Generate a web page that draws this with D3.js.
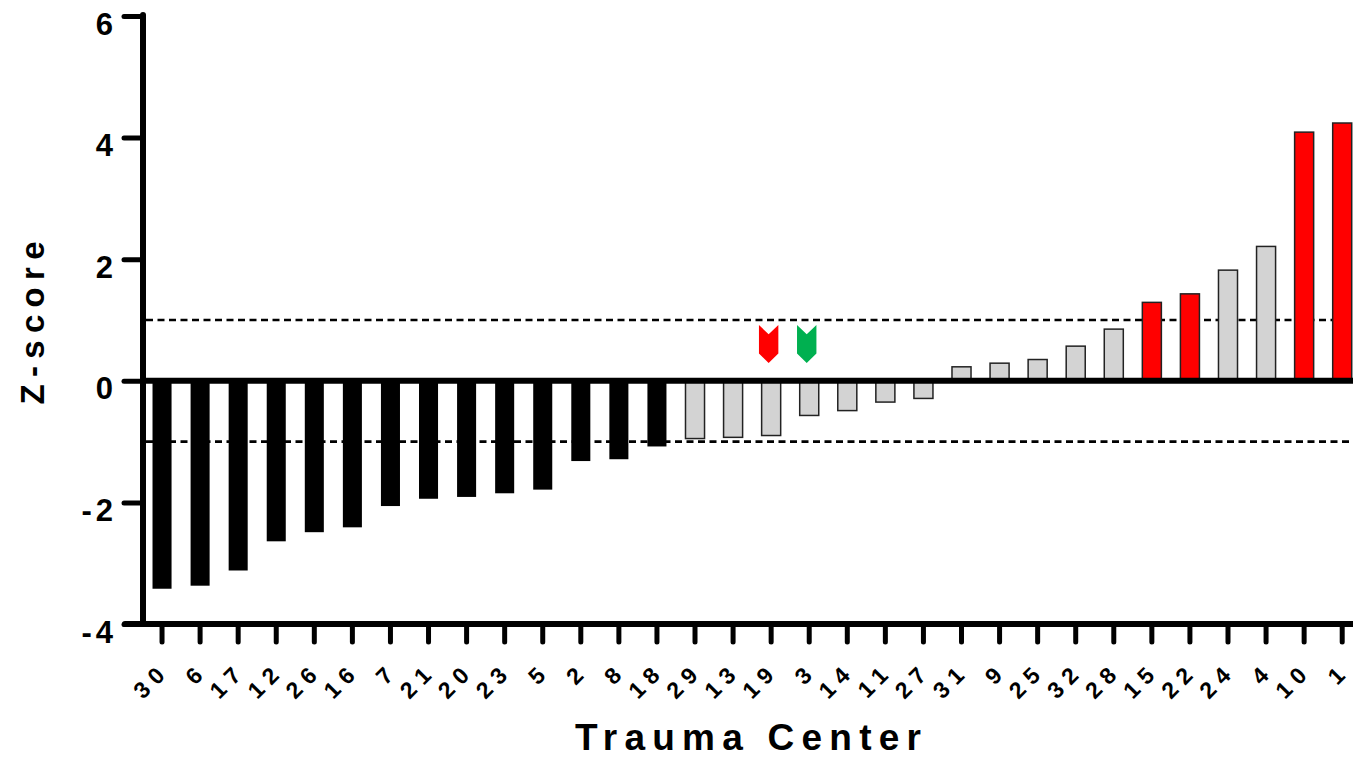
<!DOCTYPE html>
<html>
<head>
<meta charset="utf-8">
<script src="https://cdn.jsdelivr.net/npm/d3@7"></script>
<style>
  html, body { margin: 0; padding: 0; background: #fff; }
  svg { display: block; font-family: "Liberation Sans", Arial, sans-serif; }
</style>
</head>
<body>
<svg id="chart" width="1353" height="757"></svg>
<script>
// ---- data ----
const centers = ["30","6","17","12","26","16","7","21","20","23","5","2","8","18",
                 "29","13","19","3","14","11","27","31","9","25","32","28","15","22","24","4","10","1"];
const zScores = [-3.42,-3.37,-3.12,-2.64,-2.49,-2.41,-2.06,-1.94,-1.91,-1.85,-1.79,-1.32,-1.29,-1.08,
                 -0.95,-0.93,-0.90,-0.57,-0.49,-0.35,-0.29,0.23,0.29,0.35,0.57,0.85,1.29,1.43,1.82,2.21,4.09,4.24];
const groups = ["low","low","low","low","low","low","low","low","low","low","low","low","low","low",
                "mid","mid","mid","mid","mid","mid","mid","mid","mid","mid","mid","mid","high","high","mid","mid","high","high"];
const yTicks = [-4,-2,0,2,4,6];
const yTickLabels = ["-4","-2","0","2","4","6"];
const thresholds = [-1, 1];
const markedCenters = ["19","3"];
const markerKinds = ["worse","better"];
const yLabel = "Z-score";
const xLabel = "Trauma Center";

// ---- drawing ----
const svg = d3.select("#chart");
const FONT = "'Liberation Sans', Arial, sans-serif";
const AX = 143;           // y-axis x
const y = d3.scaleLinear().domain([-4, 6]).range([624, 16]);
const x = d3.scaleBand().domain(centers).range([AX, AX + 32 * 38.07])
  .paddingInner(0.5).paddingOuter(0.25);

const fill = { low: "#000000", mid: "#d3d3d3", high: "#ff0000" };
const stroke = { low: "#000000", mid: "#222222", high: "#222222" };

// dashed threshold lines
svg.append("g").selectAll("line").data(thresholds).join("line")
  .attr("x1", AX + 3).attr("x2", 1353)
  .attr("y1", d => y(d)).attr("y2", d => y(d))
  .attr("stroke", "#000").attr("stroke-width", 2.6)
  .attr("stroke-dasharray", "7,4.5");

// bars
const data = centers.map((c, i) => ({ c, v: zScores[i], g: groups[i] }));
svg.append("g").selectAll("rect").data(data).join("rect")
  .attr("x", d => x(d.c))
  .attr("width", x.bandwidth())
  .attr("y", d => Math.min(y(d.v), y(0)))
  .attr("height", d => Math.abs(y(d.v) - y(0)))
  .attr("fill", d => fill[d.g])
  .attr("stroke", d => stroke[d.g])
  .attr("stroke-width", d => d.g === "low" ? 0 : 1.5);

// zero line
svg.append("line")
  .attr("x1", AX).attr("x2", 1353).attr("y1", y(0)).attr("y2", y(0))
  .attr("stroke", "#000").attr("stroke-width", 6);

// helper: spaced characters without trailing gap
function spaced(sel, gap) {
  sel.each(function(d) {
    const t = d3.select(this);
    const s = t.text();
    t.text(null);
    t.selectAll("tspan").data(s.split("")).join("tspan")
      .attr("dx", (c, i) => i ? gap : 0)
      .text(c => c);
  });
}

// y axis
const yAxis = d3.axisLeft(y).tickValues(yTicks).tickSize(19).tickPadding(11)
  .tickFormat((d, i) => yTickLabels[i]);
const gy = svg.append("g").attr("transform", `translate(${AX},0)`).call(yAxis);
gy.select(".domain").remove();
gy.selectAll(".tick line").attr("stroke", "#000").attr("stroke-width", 5).attr("stroke-linecap", "round");
gy.selectAll(".tick text").attr("fill", "#000").attr("font-size", 31).attr("font-weight", "bold")
  .attr("font-family", FONT).attr("dy", null).attr("y", 18).call(spaced, 4);
svg.append("line").attr("x1", AX).attr("x2", AX).attr("y1", y(6) - 1).attr("y2", y(-4))
  .attr("stroke", "#000").attr("stroke-width", 6).attr("stroke-linecap", "round");

// x axis
const xAxis = d3.axisBottom(x).tickSize(18).tickFormat("");
const gx = svg.append("g").attr("transform", `translate(0,${y(-4)})`).call(xAxis);
gx.select(".domain").remove();
gx.selectAll(".tick line").attr("stroke", "#000").attr("stroke-width", 5).attr("stroke-linecap", "round");
svg.append("line").attr("x1", AX - 18).attr("x2", 1353).attr("y1", y(-4)).attr("y2", y(-4))
  .attr("stroke", "#000").attr("stroke-width", 6).attr("stroke-linecap", "round");

// rotated x tick labels
svg.append("g").selectAll("text").data(centers).join("text")
  .attr("transform", d => {
    const cx = x(d) + x.bandwidth() / 2 + 4;
    const cy = 677;
    return `translate(${cx},${cy}) rotate(-45)`;
  })
  .attr("text-anchor", "end")
  .attr("font-family", FONT)
  .attr("font-size", 23).attr("font-weight", "bold")
  .text(d => d)
  .call(spaced, 7);

// markers (chevrons) above selected bars
const mColor = { worse: "#ff0000", better: "#00b050" };
const mW = 19.4, mNotch = 9.3, mTip = 9.4;
const mTop = 325, mH = 38;
svg.append("g").selectAll("path").data(markedCenters.map((c, i) => ({ c, k: markerKinds[i] }))).join("path")
  .attr("d", d => {
    const cx = x(d.c) + x.bandwidth() / 2 - 2.5;
    const l = cx - mW / 2, r = cx + mW / 2;
    return `M${l},${mTop} L${cx},${mTop + mNotch} L${r},${mTop} L${r},${mTop + mH - mTip} L${cx},${mTop + mH} L${l},${mTop + mH - mTip} Z`;
  })
  .attr("fill", d => mColor[d.k]);

// axis titles
svg.append("text")
  .attr("transform", "translate(44,323) rotate(-90)")
  .attr("text-anchor", "middle")
  .attr("font-family", FONT)
  .attr("font-size", 33).attr("font-weight", "bold")
  .attr("textLength", 163).attr("lengthAdjust", "spacing")
  .text(yLabel);

svg.append("text")
  .attr("x", 748).attr("y", 750)
  .attr("text-anchor", "middle")
  .attr("font-family", FONT)
  .attr("font-size", 37).attr("font-weight", "bold")
  .attr("textLength", 346).attr("lengthAdjust", "spacing")
  .text(xLabel);
</script>
</body>
</html>
